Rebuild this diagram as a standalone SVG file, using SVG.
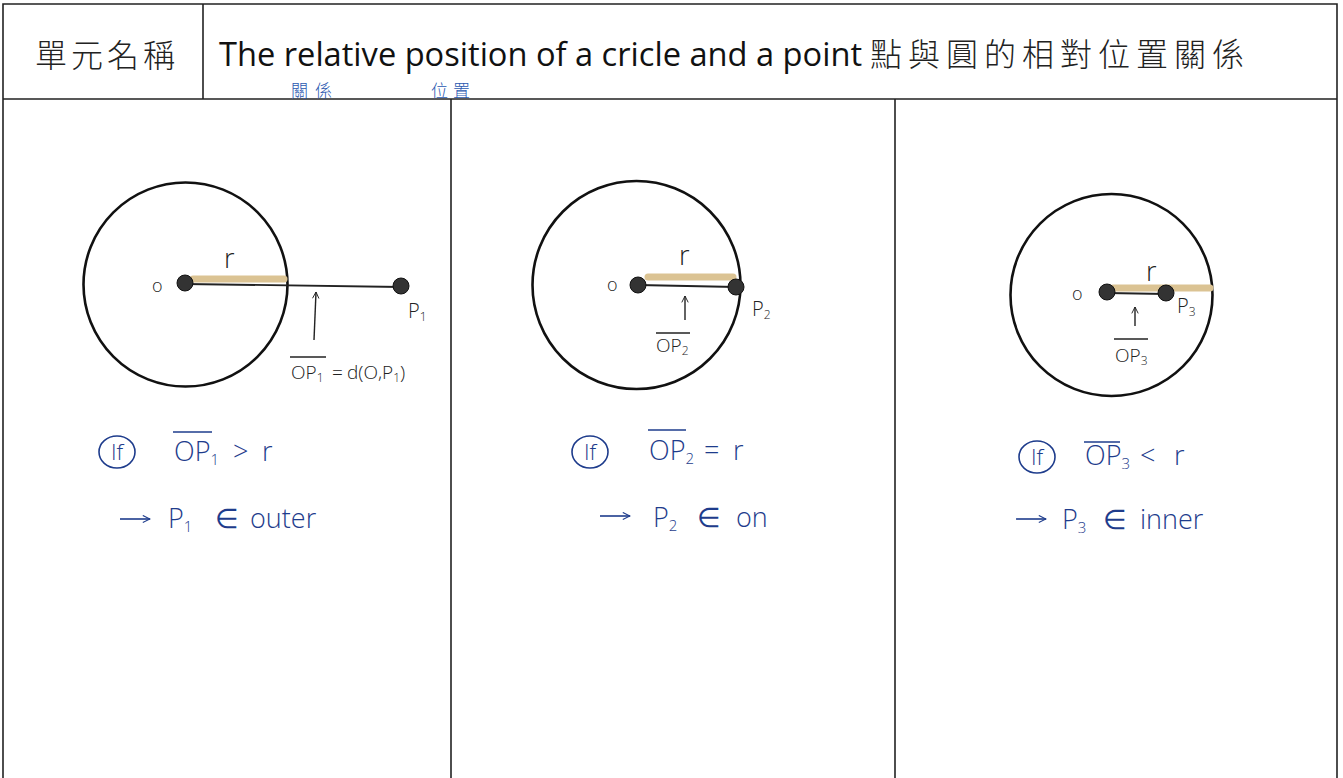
<svg xmlns="http://www.w3.org/2000/svg" width="1343" height="778" viewBox="0 0 1343 778">
<defs>
<style>
.frame{fill:none;stroke:#222;stroke-width:1.6}
.circ{fill:none;stroke:#111;stroke-width:2.6}
.dot{fill:#333;stroke:#111;stroke-width:1}
.seg{stroke:#222;stroke-width:1.8}
.tan{stroke:#dbc393;stroke-width:7;stroke-linecap:round}
.hand{font-family:"Open Sans","Liberation Sans",sans-serif;font-weight:300;fill:#222}
.blue{font-family:"Open Sans","Liberation Sans",sans-serif;font-weight:300;fill:#1e3c8c}
.bluecjk{font-family:"Noto Sans CJK TC",sans-serif;font-weight:300;fill:#2a58b0}
.bline{stroke:#1e3c8c;stroke-width:1.6;fill:none}
.kline{stroke:#222;stroke-width:1.4;fill:none}
.title{font-family:"Open Sans","Liberation Sans",sans-serif;fill:#111}
.cjk{font-family:"Noto Sans CJK TC",sans-serif;fill:#222;font-weight:300}
</style>
<marker id="ah" viewBox="0 0 10 10" refX="9" refY="5" markerWidth="8" markerHeight="8" orient="auto" markerUnits="userSpaceOnUse">
<path d="M1,1 L9,5 L1,9" fill="none" stroke="#222" stroke-width="1.2"/>
</marker>
<marker id="ahb" viewBox="0 0 10 10" refX="9" refY="5" markerWidth="9" markerHeight="9" orient="auto" markerUnits="userSpaceOnUse">
<path d="M1,1 L9,5 L1,9" fill="none" stroke="#1e3c8c" stroke-width="1.2"/>
</marker>
</defs>
<rect width="1343" height="778" fill="#fff"/>

<g id="header">
<path class="frame" d="M3,778 L3,4 L1337,4 L1337,778 M3,99 L1337,99 M203,4 L203,99 M451,99 L451,778 M895,99 L895,778"/>
<text class="cjk" x="107" y="67" font-size="32" letter-spacing="4" text-anchor="middle">單元名稱</text>
<text class="title" x="219" y="66" font-size="32" textLength="643" lengthAdjust="spacingAndGlyphs">The relative position of a cricle and a point</text>
<text class="cjk" x="870" y="66" font-size="32" letter-spacing="6">點與圓的相對位置關係</text>
<text class="bluecjk" x="291" y="97" font-size="17" letter-spacing="7">關係</text>
<text class="bluecjk" x="431" y="97" font-size="17" letter-spacing="5">位置</text>
</g>

<g id="panel1">
<circle class="circ" cx="185.5" cy="284.5" r="102"/>
<line class="tan" x1="193" y1="279" x2="284" y2="279"/>
<text class="hand" x="152" y="292" font-size="18">o</text>
<text class="hand" x="224" y="268" font-size="27">r</text>
<text class="hand" x="408" y="318" font-size="20">P<tspan font-size="12" dy="3">1</tspan></text>
<text class="hand" x="291" y="379" font-size="19">OP<tspan font-size="12" dy="3">1</tspan><tspan dy="-3" x="332">=</tspan><tspan x="347">d(O,P</tspan><tspan font-size="12" dy="3">1</tspan><tspan dy="-3">)</tspan></text>
<line class="kline" x1="290" y1="357" x2="326" y2="357"/>
</g>

<g id="panel2">
<circle class="circ" cx="636.5" cy="285" r="104"/>
<line class="tan" x1="648" y1="277" x2="733" y2="277"/>
<text class="hand" x="607" y="291" font-size="18">o</text>
<text class="hand" x="679" y="265" font-size="27">r</text>
<text class="hand" x="752" y="316" font-size="20">P<tspan font-size="12" dy="3">2</tspan></text>
<text class="hand" x="656" y="352" font-size="19">OP<tspan font-size="12" dy="3">2</tspan></text>
<line class="kline" x1="656" y1="333" x2="690" y2="333"/>
</g>

<g id="panel3">
<circle class="circ" cx="1111.5" cy="295" r="101"/>
<line class="tan" x1="1113" y1="288" x2="1210" y2="288"/>
<text class="hand" x="1072" y="300" font-size="18">o</text>
<text class="hand" x="1146" y="281" font-size="27">r</text>
<text class="hand" x="1177" y="313" font-size="20">P<tspan font-size="12" dy="3">3</tspan></text>
<text class="hand" x="1115" y="362" font-size="19">OP<tspan font-size="12" dy="3">3</tspan></text>
<line class="kline" x1="1114" y1="339" x2="1148" y2="339"/>
</g>

<g id="connectors">
<line class="seg" x1="185" y1="284" x2="401" y2="287"/>
<line class="seg" x1="638" y1="285" x2="736" y2="287"/>
<line class="seg" x1="1107" y1="293" x2="1166" y2="294"/>
<line class="kline" x1="314" y1="340" x2="316" y2="292" marker-end="url(#ah)"/>
<line class="kline" x1="685" y1="320" x2="685" y2="296" marker-end="url(#ah)"/>
<line class="kline" x1="1135" y1="326" x2="1135" y2="307" marker-end="url(#ah)"/>
</g>

<g id="dots">
<circle class="dot" cx="185" cy="283" r="8"/>
<circle class="dot" cx="401" cy="286" r="8"/>
<circle class="dot" cx="638" cy="285" r="8"/>
<circle class="dot" cx="736" cy="287" r="8"/>
<circle class="dot" cx="1107" cy="292" r="8"/>
<circle class="dot" cx="1166" cy="293" r="8"/>
</g>

<g id="cond1">
<ellipse class="bline" cx="117" cy="452" rx="18" ry="16"/>
<text class="blue" x="117" y="460" font-size="22" text-anchor="middle">If</text>
<text class="blue" x="174" y="461" font-size="27">OP<tspan font-size="15" dy="4">1</tspan><tspan dy="-4" x="233">&gt;</tspan><tspan x="262">r</tspan></text>
<line class="bline" x1="173" y1="432" x2="212" y2="432"/>
<line class="bline" x1="120" y1="519" x2="150" y2="519" marker-end="url(#ahb)"/>
<text class="blue" x="168" y="528" font-size="27">P<tspan font-size="15" dy="4">1</tspan><tspan dy="-4" x="215">∈</tspan><tspan x="250">outer</tspan></text>
</g>

<g id="cond2">
<ellipse class="bline" cx="590" cy="452" rx="18" ry="16"/>
<text class="blue" x="590" y="460" font-size="22" text-anchor="middle">If</text>
<text class="blue" x="649" y="460" font-size="27">OP<tspan font-size="15" dy="4">2</tspan><tspan dy="-4" x="704">=</tspan><tspan x="733">r</tspan></text>
<line class="bline" x1="648" y1="430" x2="686" y2="430"/>
<line class="bline" x1="600" y1="516" x2="630" y2="516" marker-end="url(#ahb)"/>
<text class="blue" x="653" y="527" font-size="27">P<tspan font-size="15" dy="4">2</tspan><tspan dy="-4" x="697">∈</tspan><tspan x="736">on</tspan></text>
</g>

<g id="cond3">
<ellipse class="bline" cx="1037" cy="457" rx="18" ry="16"/>
<text class="blue" x="1037" y="465" font-size="22" text-anchor="middle">If</text>
<text class="blue" x="1085" y="465" font-size="27">OP<tspan font-size="15" dy="4">3</tspan><tspan dy="-4" x="1140">&lt;</tspan><tspan x="1174">r</tspan></text>
<line class="bline" x1="1084" y1="442" x2="1120" y2="442"/>
<line class="bline" x1="1016" y1="519" x2="1046" y2="519" marker-end="url(#ahb)"/>
<text class="blue" x="1062" y="529" font-size="27">P<tspan font-size="15" dy="4">3</tspan><tspan dy="-4" x="1103">∈</tspan><tspan x="1140">inner</tspan></text>
</g>
</svg>
